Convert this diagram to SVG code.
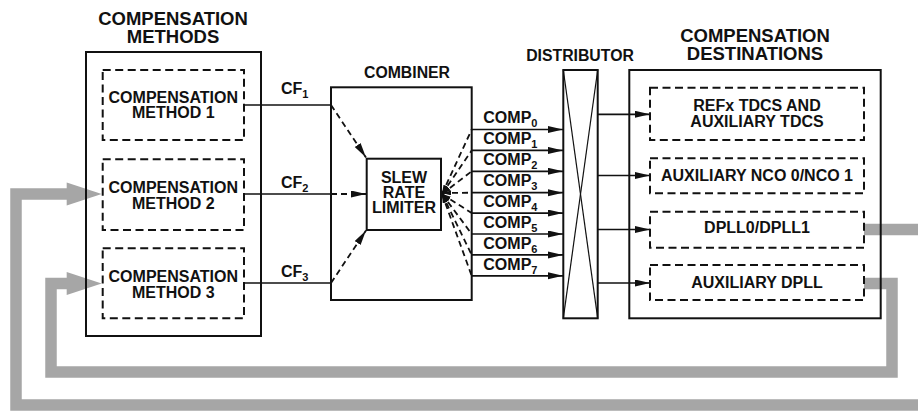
<svg xmlns="http://www.w3.org/2000/svg" width="918" height="411" viewBox="0 0 918 411">
<style>
text{font-family:"Liberation Sans",Arial,sans-serif;font-weight:bold;fill:#111;}
.t{font-size:16px;text-anchor:middle;}
.h{font-size:18.5px;text-anchor:middle;}
.h2{font-size:15.8px;text-anchor:middle;}
.l{font-size:16px;}
.sub{font-size:11px;}
.box{fill:none;stroke:#111;stroke-width:2;}
.dbox{fill:none;stroke:#111;stroke-width:2;stroke-dasharray:8 4.5;}
.wire{fill:none;stroke:#111;stroke-width:1.7;}
.dash{fill:none;stroke:#111;stroke-width:1.8;stroke-dasharray:6 4;}
.gray{fill:none;stroke:#a6a6a6;stroke-width:11.5;stroke-linejoin:miter;}
.gh{fill:#a6a6a6;}
.thin{stroke:#111;stroke-width:1.2;}
</style>
<defs>
<marker id="ah" markerUnits="userSpaceOnUse" markerWidth="16" markerHeight="8" refX="15" refY="3.5" orient="auto">
<path d="M0,0 L15,3.5 L0,7 z" fill="#111"/>
</marker>
<marker id="ahs" markerUnits="userSpaceOnUse" markerWidth="10" markerHeight="6" refX="9" refY="2.5" orient="auto-start-reverse">
<path d="M0,0 L9,2.5 L0,5 z" fill="#111"/>
</marker>
</defs>

<g id="connectors">
<!-- feedback loops -->
<path class="gray" d="M864,229.5 H925"/>
<path class="gray" d="M925,405 H16 V194 H68"/>
<polygon class="gh" points="66.7,182.5 101.7,194 66.7,205.5"/>
<path class="gray" d="M864,283.5 H892 V372 H51 V283.5 H68"/>
<polygon class="gh" points="66.7,272 101.7,283.5 66.7,295"/>
<!-- CF lines -->
<line class="wire" x1="244" y1="105" x2="331" y2="105"/>
<line class="wire" x1="244" y1="194" x2="331" y2="194"/>
<line class="wire" x1="244" y1="283" x2="331" y2="283"/>
<line class="dash" x1="331" y1="105" x2="366" y2="157.5" marker-end="url(#ah)"/>
<line class="dash" x1="331" y1="194" x2="366" y2="194" marker-end="url(#ah)"/>
<line class="dash" x1="331" y1="283" x2="366" y2="230.5" marker-end="url(#ah)"/>
<!-- fan from limiter -->
<line class="dash" x1="442" y1="194" x2="471.7" y2="129.5" marker-start="url(#ahs)"/>
<line class="dash" x1="442" y1="194" x2="471.7" y2="150.4" marker-start="url(#ahs)"/>
<line class="dash" x1="442" y1="194" x2="471.7" y2="171.3" marker-start="url(#ahs)"/>
<line class="dash" x1="442" y1="193" x2="471.7" y2="192.7" marker-start="url(#ahs)"/>
<line class="dash" x1="442" y1="194" x2="471.7" y2="213.1" marker-start="url(#ahs)"/>
<line class="dash" x1="442" y1="194" x2="471.7" y2="234" marker-start="url(#ahs)"/>
<line class="dash" x1="442" y1="194" x2="471.7" y2="254.9" marker-start="url(#ahs)"/>
<line class="dash" x1="442" y1="194" x2="471.7" y2="275.8" marker-start="url(#ahs)"/>
<!-- COMP lines -->
<line class="wire" x1="471.7" y1="129.5" x2="563" y2="129.5" marker-end="url(#ah)"/>
<line class="wire" x1="471.7" y1="150.4" x2="563" y2="150.4" marker-end="url(#ah)"/>
<line class="wire" x1="471.7" y1="171.3" x2="563" y2="171.3" marker-end="url(#ah)"/>
<line class="wire" x1="471.7" y1="192.7" x2="563" y2="192.7" marker-end="url(#ah)"/>
<line class="wire" x1="471.7" y1="213.1" x2="563" y2="213.1" marker-end="url(#ah)"/>
<line class="wire" x1="471.7" y1="234" x2="563" y2="234" marker-end="url(#ah)"/>
<line class="wire" x1="471.7" y1="254.9" x2="563" y2="254.9" marker-end="url(#ah)"/>
<line class="wire" x1="471.7" y1="275.8" x2="563" y2="275.8" marker-end="url(#ah)"/>
<!-- distributor outputs -->
<line class="wire" x1="597.7" y1="114.3" x2="650" y2="114.3" marker-end="url(#ah)"/>
<line class="wire" x1="597.7" y1="175.5" x2="650" y2="175.5" marker-end="url(#ah)"/>
<line class="wire" x1="597.7" y1="229.5" x2="650" y2="229.5" marker-end="url(#ah)"/>
<line class="wire" x1="597.7" y1="283" x2="650" y2="283" marker-end="url(#ah)"/>
<!-- labels -->
<text class="l" x="281" y="94.3">CF<tspan class="sub" dy="4">1</tspan></text>
<text class="l" x="281" y="187.7">CF<tspan class="sub" dy="4">2</tspan></text>
<text class="l" x="281" y="276.7">CF<tspan class="sub" dy="4">3</tspan></text>
<text class="l" x="483.3" y="123.3">COMP<tspan class="sub" dy="4">0</tspan></text>
<text class="l" x="483.3" y="144.2">COMP<tspan class="sub" dy="4">1</tspan></text>
<text class="l" x="483.3" y="165.1">COMP<tspan class="sub" dy="4">2</tspan></text>
<text class="l" x="483.3" y="186.3">COMP<tspan class="sub" dy="4">3</tspan></text>
<text class="l" x="483.3" y="206.9">COMP<tspan class="sub" dy="4">4</tspan></text>
<text class="l" x="483.3" y="227.8">COMP<tspan class="sub" dy="4">5</tspan></text>
<text class="l" x="483.3" y="248.7">COMP<tspan class="sub" dy="4">6</tspan></text>
<text class="l" x="483.3" y="269.6">COMP<tspan class="sub" dy="4">7</tspan></text>
</g>

<g id="methods">
<rect class="box" x="86" y="52" width="175" height="284"/>
<text class="h" x="173" y="25">COMPENSATION</text>
<text class="h" x="173" y="42.7">METHODS</text>
</g>
<g id="method1">
<rect class="dbox" x="102.7" y="70" width="141.3" height="70"/>
<text class="t" x="173.3" y="102.7">COMPENSATION</text>
<text class="t" x="173.3" y="118.3">METHOD 1</text>
</g>
<g id="method2">
<rect class="dbox" x="102.7" y="159.3" width="141.3" height="70.7"/>
<text class="t" x="173.3" y="192.7">COMPENSATION</text>
<text class="t" x="173.3" y="208.8">METHOD 2</text>
</g>
<g id="method3">
<rect class="dbox" x="102.7" y="248.3" width="141.3" height="70"/>
<text class="t" x="173.3" y="282.3">COMPENSATION</text>
<text class="t" x="173.3" y="298.3">METHOD 3</text>
</g>

<g id="combiner">
<rect class="box" x="331" y="87.3" width="140.7" height="212.7"/>
<text class="h2" x="407" y="78.3">COMBINER</text>
</g>
<g id="slew">
<rect class="box" x="366.7" y="158.7" width="74.3" height="71.3"/>
<text class="t" x="404" y="182.7">SLEW</text>
<text class="t" x="404" y="198">RATE</text>
<text class="t" x="404" y="213.3">LIMITER</text>
</g>

<g id="distributor">
<rect class="box" x="563.3" y="70" width="34.4" height="248.3"/>
<line class="thin" x1="563.3" y1="70" x2="597.7" y2="318.3"/>
<line class="thin" x1="597.7" y1="70" x2="563.3" y2="318.3"/>
<text class="h2" x="580" y="60.7">DISTRIBUTOR</text>
</g>

<g id="destinations">
<rect class="box" x="629.3" y="70" width="251.4" height="248.3"/>
<text class="h" x="755" y="41.7">COMPENSATION</text>
<text class="h" x="755" y="60">DESTINATIONS</text>
</g>
<g id="tdcs">
<rect class="dbox" x="650" y="87.7" width="214" height="52.3"/>
<text class="t" x="757" y="110.7">REFx TDCS AND</text>
<text class="t" x="757" y="126.7">AUXILIARY TDCS</text>
</g>
<g id="nco">
<rect class="dbox" x="650" y="158.3" width="214" height="35"/>
<text class="t" x="757" y="180.7">AUXILIARY NCO 0/NCO 1</text>
</g>
<g id="dpll">
<rect class="dbox" x="650" y="211.7" width="214" height="36"/>
<text class="t" x="757" y="233.3">DPLL0/DPLL1</text>
</g>
<g id="auxdpll">
<rect class="dbox" x="650" y="265" width="214" height="35"/>
<text class="t" x="757" y="288.3">AUXILIARY DPLL</text>
</g>
</svg>
